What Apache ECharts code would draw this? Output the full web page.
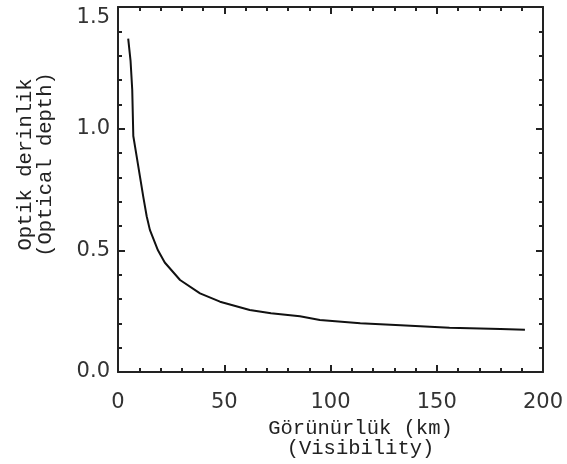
<!DOCTYPE html>
<html>
<head>
<meta charset="utf-8">
<script src="https://cdn.jsdelivr.net/npm/echarts@6/dist/echarts.min.js"></script>
<style>
  html, body { margin: 0; padding: 0; background: #fff; }
  #chart { width: 567px; height: 464px; }
</style>
</head>
<body>
<div id="chart"></div>
<script>
// visibility (km) on x, optical depth on y
var visibility = [4.8, 5.9, 6.7, 7.2, 8.8, 10.4, 11.9, 13.5, 15, 18.8, 22, 29.2, 38.6, 48, 62, 72, 85.6, 95, 114, 133, 156, 180, 191.5];
var opticalDepth = [1.37, 1.28, 1.16, 0.97, 0.885, 0.80, 0.72, 0.64, 0.584, 0.5, 0.45, 0.378, 0.323, 0.289, 0.255, 0.241, 0.229, 0.214, 0.2, 0.192, 0.182, 0.177, 0.174];
var xTickLabels = ['0', '50', '100', '150', '200'];
var yTickLabels = ['0.0', '0.5', '1.0', '1.5'];

var points = [];
for (var i = 0; i < visibility.length; i++) {
  points.push([visibility[i], opticalDepth[i]]);
}

var chart = echarts.init(document.getElementById('chart'));

var lineCol = '#222';
var tickFont = { fontFamily: 'DejaVu Sans', fontSize: 21, color: '#333' };
var titleFont = { fontFamily: 'Liberation Mono', fontSize: 20.5, color: '#222', lineHeight: 20 };

// box axes, ticks pointing inside like the original plot
function frameAxis(pos, min, max, interval) {
  return {
    type: 'value',
    position: pos,
    min: min,
    max: max,
    interval: interval,
    axisLine: { show: true, onZero: false, lineStyle: { color: lineCol, width: 2 } },
    axisTick: { show: true, inside: true, length: 7, lineStyle: { color: lineCol, width: 2 } },
    minorTick: { show: true, splitNumber: 5, length: 4, lineStyle: { color: lineCol, width: 2 } },
    splitLine: { show: false },
    axisLabel: { show: false }
  };
}

var xBottom = frameAxis('bottom', 0, 200, 50);
xBottom.axisLabel = Object.assign({
  show: true,
  margin: 20,
  formatter: function (v) { return xTickLabels[Math.round(v / 50)]; }
}, tickFont);
xBottom.name = 'Görünürlük (km)\n(Visibility)';
xBottom.nameLocation = 'middle';
xBottom.nameGap = 31;
xBottom.nameTextStyle = Object.assign({ padding: [0, 0, 0, 60], align: 'center' }, titleFont);

var xTop = frameAxis('top', 0, 200, 50);

var yLeft = frameAxis('left', 0, 1.5, 0.5);
yLeft.axisLabel = Object.assign({
  show: true,
  margin: 8,
  formatter: function (v) {
    var s = yTickLabels[Math.round(v / 0.5)];
    return v >= 1.5 ? '{top|' + s + '}' : s;
  },
  rich: { top: { fontFamily: 'DejaVu Sans', fontSize: 21, color: '#333', padding: [22, 0, 0, 0] } }
}, tickFont);
yLeft.name = 'Optik derinlik\n(Optical depth)';
yLeft.nameLocation = 'middle';
yLeft.nameGap = 62;
yLeft.nameTextStyle = Object.assign({ padding: [0, 0, 0, 50], align: 'center' }, titleFont);

var yRight = frameAxis('right', 0, 1.5, 0.5);

chart.setOption({
  animation: false,
  backgroundColor: '#fff',
  grid: { left: 118, right: 24, top: 7, bottom: 92, containLabel: false },
  xAxis: [xBottom, xTop],
  yAxis: [yLeft, yRight],
  series: [{
    type: 'line',
    xAxisIndex: 0,
    yAxisIndex: 0,
    data: points,
    showSymbol: false,
    smooth: false,
    lineStyle: { color: '#111', width: 2 }
  }]
});
</script>
</body>
</html>
